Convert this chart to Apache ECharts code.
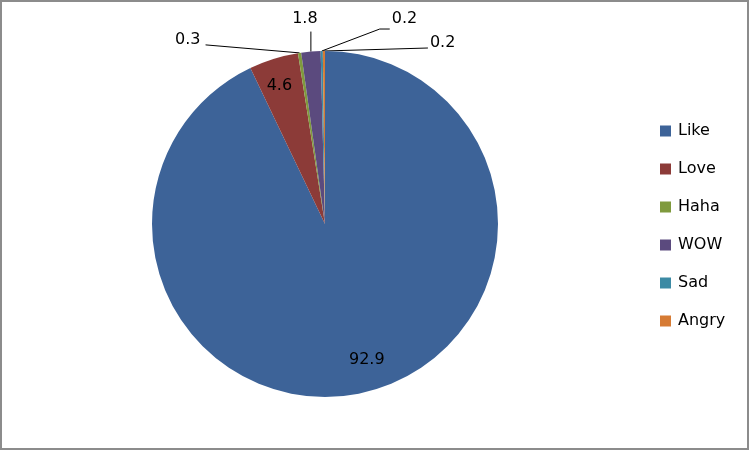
<!DOCTYPE html>
<html>
<head>
<meta charset="utf-8">
<script src="https://cdn.jsdelivr.net/npm/echarts@6/dist/echarts.min.js"></script>
<style>
html,body{margin:0;padding:0;background:#fff;}
#chart{width:750px;height:451px;}
</style>
</head>
<body>
<div id="chart"></div>
<script>
// ---- data ----
const categories = ['Like', 'Love', 'Haha', 'WOW', 'Sad', 'Angry'];
const values = [92.9, 4.6, 0.3, 1.8, 0.2, 0.2];

// ---- styles ----
const colors = ['#3D6398', '#8C3B38', '#7F9A3D', '#5B4A7E', '#3C8AA4', '#D67B34'];
const FONT = 'DejaVu Sans';
const FS = 16;
// label placement per slice: inside labels shifted with dx/dy; outside labels placed relative to slice edge point
const labelCfg = [
  { inside: true, dx: 22, dy: 49 },
  { inside: true, dx: -19, dy: -53 },
  { inside: false, line: [[-94, -8]], lx: -99, ly: -13, align: 'right' },
  { inside: false, line: [[0, -20]], lx: -6, ly: -33, align: 'center' },
  { inside: false, line: [[58, -22], [68, -22]], lx: 70, ly: -32, align: 'left' },
  { inside: false, line: [[104, -3]], lx: 106, ly: -8, align: 'left' }
];

const chart = echarts.init(document.getElementById('chart'), null, { renderer: 'canvas' });

const data = categories.map((c, i) => ({
  name: c,
  value: values[i],
  itemStyle: { color: colors[i] },
  label: { position: labelCfg[i].inside ? 'inside' : 'outside' },
  labelLine: { show: !labelCfg[i].inside }
}));

chart.setOption({
  animation: false,
  backgroundColor: '#ffffff',
  graphic: [{
    type: 'rect',
    shape: { x: 1, y: 1, width: 747, height: 448 },
    style: { fill: 'none', stroke: '#8c8c8c', lineWidth: 2 },
    silent: true
  }],
  legend: {
    orient: 'vertical',
    left: 655,
    top: 118,
    itemWidth: 11,
    itemHeight: 11,
    itemGap: 22,
    icon: 'rect',
    data: categories,
    textStyle: { fontFamily: FONT, fontSize: FS, color: '#000', lineHeight: 16, padding: [0, 0, 0, 2] }
  },
  series: [{
    type: 'pie',
    center: [325, 224],
    radius: [0, 173],
    startAngle: 90,
    clockwise: true,
    avoidLabelOverlap: false,
    itemStyle: { borderWidth: 0 },
    label: {
      show: true,
      formatter: p => String(p.value),
      fontFamily: FONT,
      fontSize: FS,
      color: '#000'
    },
    labelLine: {
      show: true,
      length: 10,
      length2: 10,
      smooth: false,
      lineStyle: { color: '#000', width: 1 }
    },
    labelLayout: function (params) {
      const cfg = labelCfg[params.dataIndex];
      if (cfg.inside) {
        return { dx: cfg.dx, dy: cfg.dy };
      }
      const p0 = params.labelLinePoints[0];
      const pts = [[p0[0], p0[1]]].concat(cfg.line.map(o => [p0[0] + o[0], p0[1] + o[1]]));
      return {
        x: p0[0] + cfg.lx,
        y: p0[1] + cfg.ly,
        align: cfg.align,
        verticalAlign: 'middle',
        labelLinePoints: pts
      };
    },
    emphasis: { disabled: true },
    data: data
  }]
});
</script>
</body>
</html>
